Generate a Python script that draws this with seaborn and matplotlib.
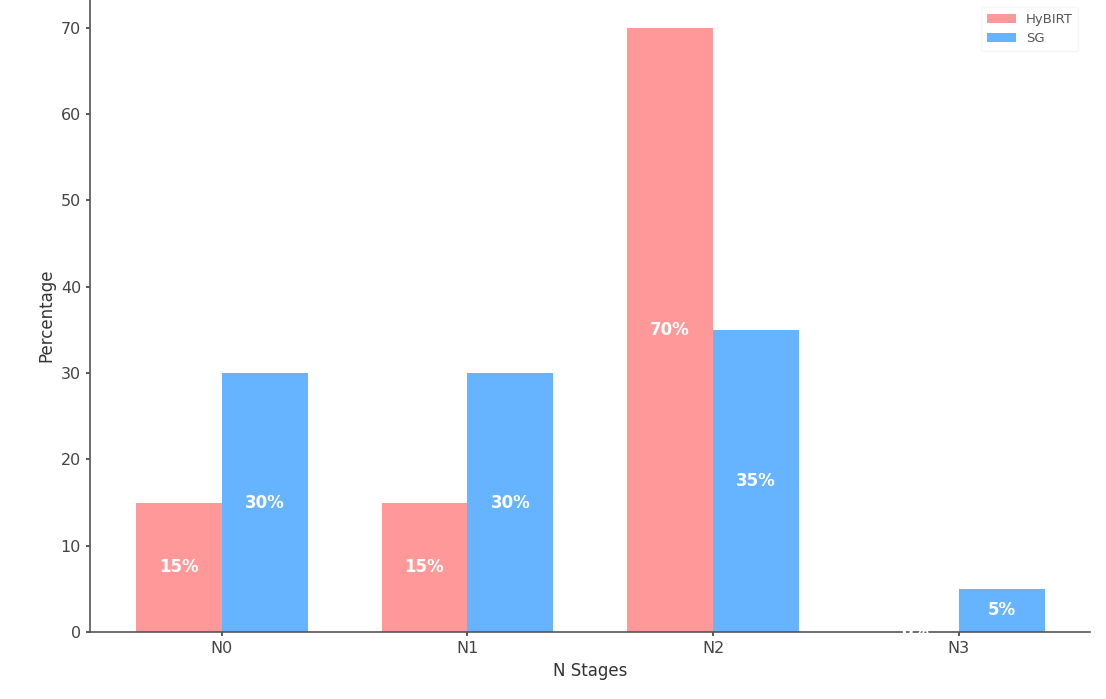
import matplotlib
matplotlib.use("Agg")
import matplotlib.pyplot as plt
import seaborn as sns
import pandas as pd

stages = ["N0", "N1", "N2", "N3"]
hybirt = [15, 15, 70, 0]
sg = [30, 30, 35, 5]
groups = ["HyBIRT", "SG"]
colors = ["#FF9999", "#66B3FF"]

sns.set_theme(style="white")
plt.rcParams['font.family'] = ['DejaVu Sans']

df = pd.DataFrame({
    "Stage": stages * 2,
    "Percentage": hybirt + sg,
    "Group": [groups[0]] * 4 + [groups[1]] * 4,
})

fig = plt.figure(figsize=(11.06, 6.99), dpi=100)
ax = fig.add_axes([0.0814, 0.0959, 0.9041, 0.9074])
sns.barplot(data=df, x="Stage", y="Percentage", hue="Group", palette=colors,
            width=0.7, ax=ax, saturation=1, errorbar=None, linewidth=0)

for cont, vals in zip(ax.containers, [hybirt, sg]):
    ax.bar_label(cont, labels=[f"{v}%" for v in vals], label_type="center",
                 color="white", fontweight="bold", fontsize=12)

ax.set_ylim(0, 73.5)
ax.set_xlim(-0.537, 3.535)
ax.set_yticks(range(0, 71, 10))
ax.set_xlabel("N Stages", fontsize=12, color="#333333")
ax.set_ylabel("Percentage", fontsize=12, color="#333333")
ax.tick_params(axis="both", labelsize=11.5, colors="#444444", length=3, left=True, bottom=True)
for s in ["top", "right"]:
    ax.spines[s].set_visible(False)
for s in ["left", "bottom"]:
    ax.spines[s].set_color("#555555")
    ax.spines[s].set_linewidth(1.2)

leg = ax.legend(loc="upper right", fontsize=9.5, frameon=True, bbox_to_anchor=(0.995, 0.995),
                handlelength=2.2)
leg.get_frame().set_edgecolor("#f4f4f4")
for t in leg.get_texts():
    t.set_color("#555555")

fig.savefig("out.png", dpi=100)
